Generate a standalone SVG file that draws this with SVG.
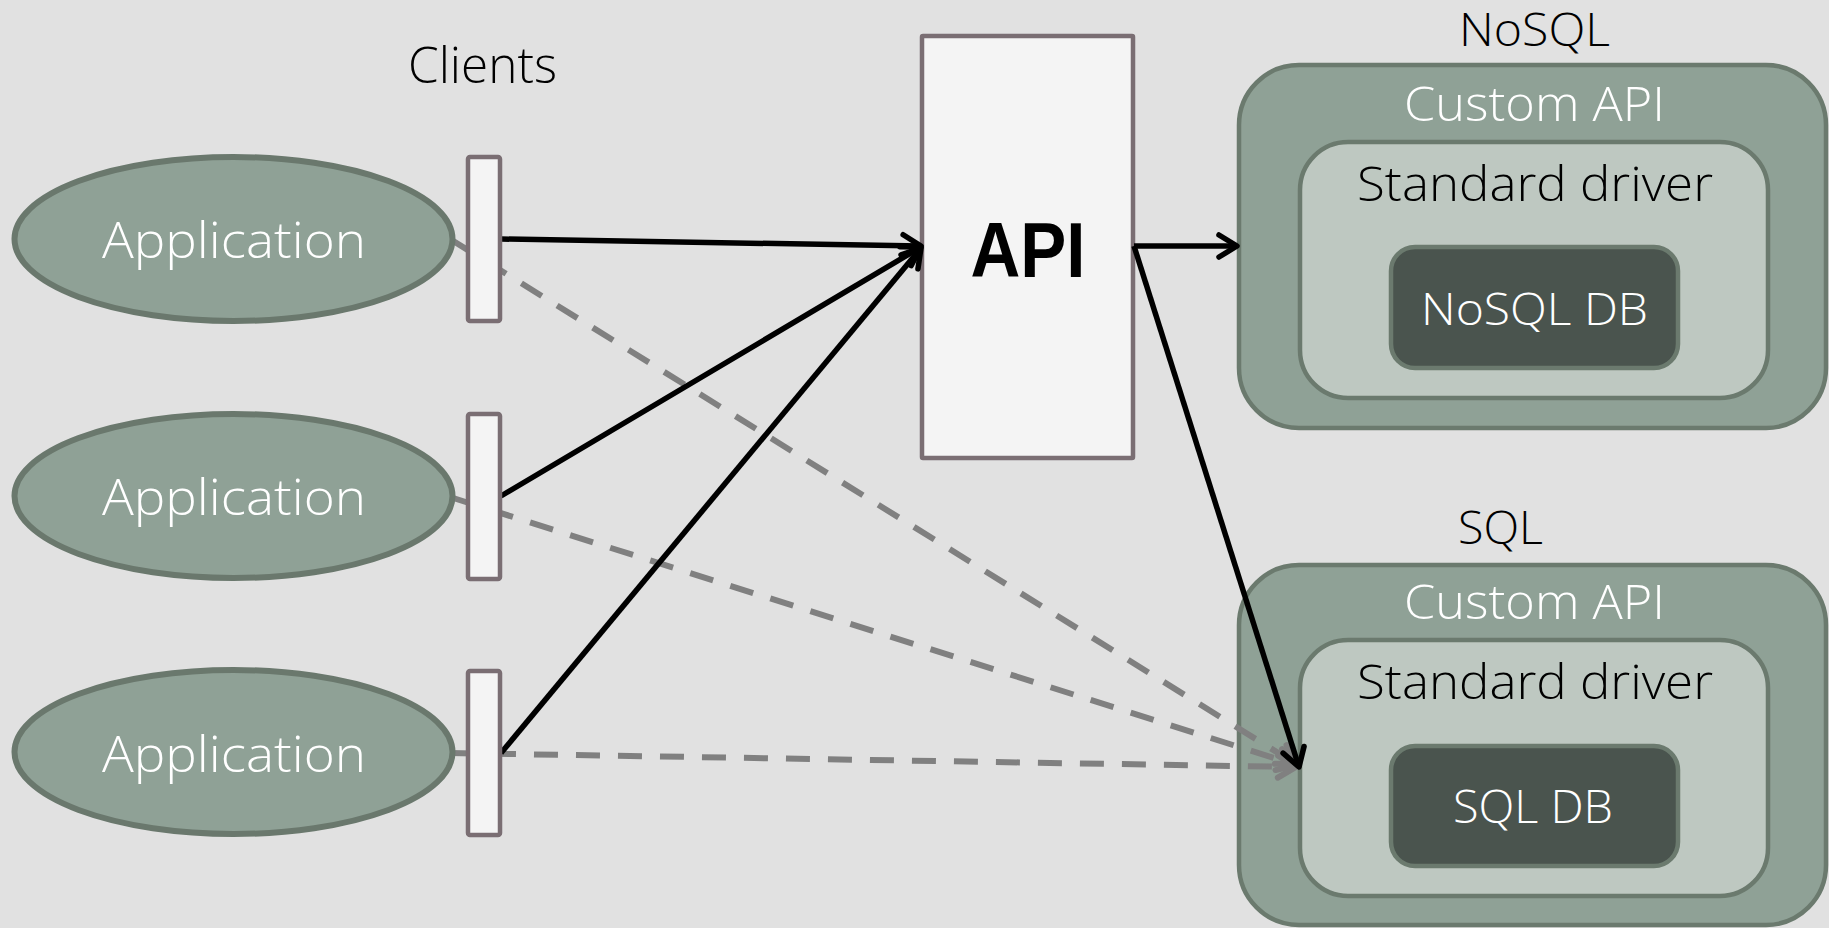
<svg xmlns="http://www.w3.org/2000/svg" width="1829" height="928" viewBox="0 0 1829 928">
  <style>
    .lbl { font-family: "Open Sans", "DejaVu Sans", sans-serif; font-weight: 300; text-anchor: middle; }
    .dark { fill: #000000; }
    .light { fill: #ffffff; }
    .app { fill: #8fa196; stroke: #6a786d; stroke-width: 6; }
    .port { fill: #f4f4f4; stroke: #7a6e73; stroke-width: 4.5; }
    .outer { fill: #8fa196; stroke: #6b7a6e; stroke-width: 4.5; }
    .driver { fill: #bec8c1; stroke: #6b7a6e; stroke-width: 4.5; }
    .db { fill: #4a544e; stroke: #6b7a6e; stroke-width: 4.5; }
    .solid { fill: none; stroke: #000000; stroke-width: 5.5; marker-end: url(#arrowBlack); }
    .dashed { fill: none; stroke: #808080; stroke-width: 6; stroke-dasharray: 24 18; marker-end: url(#arrowGray); }
  </style>
  <defs>
    <marker id="arrowBlack" markerUnits="userSpaceOnUse" viewBox="0 0 30 30" refX="25" refY="15" markerWidth="30" markerHeight="30" orient="auto">
      <path d="M7,4 L25,15 L7,26" fill="none" stroke="#000000" stroke-width="5.5" stroke-linecap="round" stroke-linejoin="round"/>
    </marker>
    <marker id="arrowGray" markerUnits="userSpaceOnUse" viewBox="0 0 30 30" refX="25" refY="15" markerWidth="30" markerHeight="30" orient="auto">
      <path d="M7,4 L25,15 L7,26" fill="none" stroke="#808080" stroke-width="6" stroke-linecap="round" stroke-linejoin="round" stroke-dasharray="none"/>
    </marker>
  </defs>

  <rect x="0" y="0" width="1829" height="928" fill="#e1e1e1"/>

  <text class="lbl dark" x="482.5" y="83" font-size="50" textLength="149" lengthAdjust="spacingAndGlyphs">Clients</text>

  <!-- API gateway -->
  <g id="api">
    <rect x="922" y="36" width="211" height="422" fill="#f4f4f4" stroke="#7a6e73" stroke-width="4.5" rx="1"/>
    <text x="1028" y="277" font-family="'Liberation Sans', Arial, sans-serif" font-weight="bold" font-size="78" text-anchor="middle" textLength="115" lengthAdjust="spacingAndGlyphs">API</text>
  </g>

  <!-- NoSQL stack -->
  <g id="nosql">
    <text class="lbl dark" x="1534.5" y="46" font-size="46" textLength="151" lengthAdjust="spacingAndGlyphs">NoSQL</text>
    <rect class="outer" x="1239" y="65" width="587" height="363" rx="60"/>
    <text class="lbl light" x="1534.5" y="121" font-size="48" textLength="261" lengthAdjust="spacingAndGlyphs">Custom API</text>
    <rect class="driver" x="1300" y="142" width="468" height="256" rx="48"/>
    <text class="lbl dark" x="1535" y="201" font-size="48" textLength="356" lengthAdjust="spacingAndGlyphs">Standard driver</text>
    <rect class="db" x="1391" y="247" width="287" height="121" rx="24"/>
    <text class="lbl light" x="1534.5" y="325" font-size="45" textLength="227" lengthAdjust="spacingAndGlyphs">NoSQL DB</text>
  </g>

  <!-- SQL stack -->
  <g id="sql">
    <text class="lbl dark" x="1500.5" y="544" font-size="46" textLength="85" lengthAdjust="spacingAndGlyphs">SQL</text>
    <rect class="outer" x="1239" y="565" width="587" height="360" rx="60"/>
    <text class="lbl light" x="1534.5" y="619" font-size="48" textLength="261" lengthAdjust="spacingAndGlyphs">Custom API</text>
    <rect class="driver" x="1300" y="640" width="468" height="256" rx="48"/>
    <text class="lbl dark" x="1535" y="699" font-size="48" textLength="356" lengthAdjust="spacingAndGlyphs">Standard driver</text>
    <rect class="db" x="1391" y="746" width="287" height="120" rx="24"/>
    <text class="lbl light" x="1533" y="823" font-size="46" textLength="160" lengthAdjust="spacingAndGlyphs">SQL DB</text>
  </g>

  <!-- connectors -->
  <g id="connectors">
    <path class="dashed" d="M450,239 L1296,764"/>
    <path class="dashed" d="M450,497 L1296,765"/>
    <path class="dashed" d="M450,753 L1296,767"/>
    <path class="solid" d="M501,239 L921,246"/>
    <path class="solid" d="M501,496 L921,247"/>
    <path class="solid" d="M501,753 L921,248"/>
    <path class="solid" d="M1134,246 L1237,246"/>
    <path class="solid" d="M1134,246 L1299,767"/>
  </g>

  <!-- client applications with their ports -->
  <g id="client1">
    <ellipse class="app" cx="233.5" cy="239" rx="219" ry="82"/>
    <rect class="port" x="468" y="157" width="32" height="164" rx="2"/>
    <text class="lbl light" x="234" y="258" font-size="49" textLength="264" lengthAdjust="spacingAndGlyphs">Application</text>
  </g>
  <g id="client2">
    <ellipse class="app" cx="233.5" cy="496" rx="219" ry="82"/>
    <rect class="port" x="468" y="414" width="32" height="165" rx="2"/>
    <text class="lbl light" x="234" y="515" font-size="49" textLength="264" lengthAdjust="spacingAndGlyphs">Application</text>
  </g>
  <g id="client3">
    <ellipse class="app" cx="233.5" cy="752" rx="219" ry="82"/>
    <rect class="port" x="468" y="671" width="32" height="164" rx="2"/>
    <text class="lbl light" x="234" y="772" font-size="49" textLength="264" lengthAdjust="spacingAndGlyphs">Application</text>
  </g>
</svg>
